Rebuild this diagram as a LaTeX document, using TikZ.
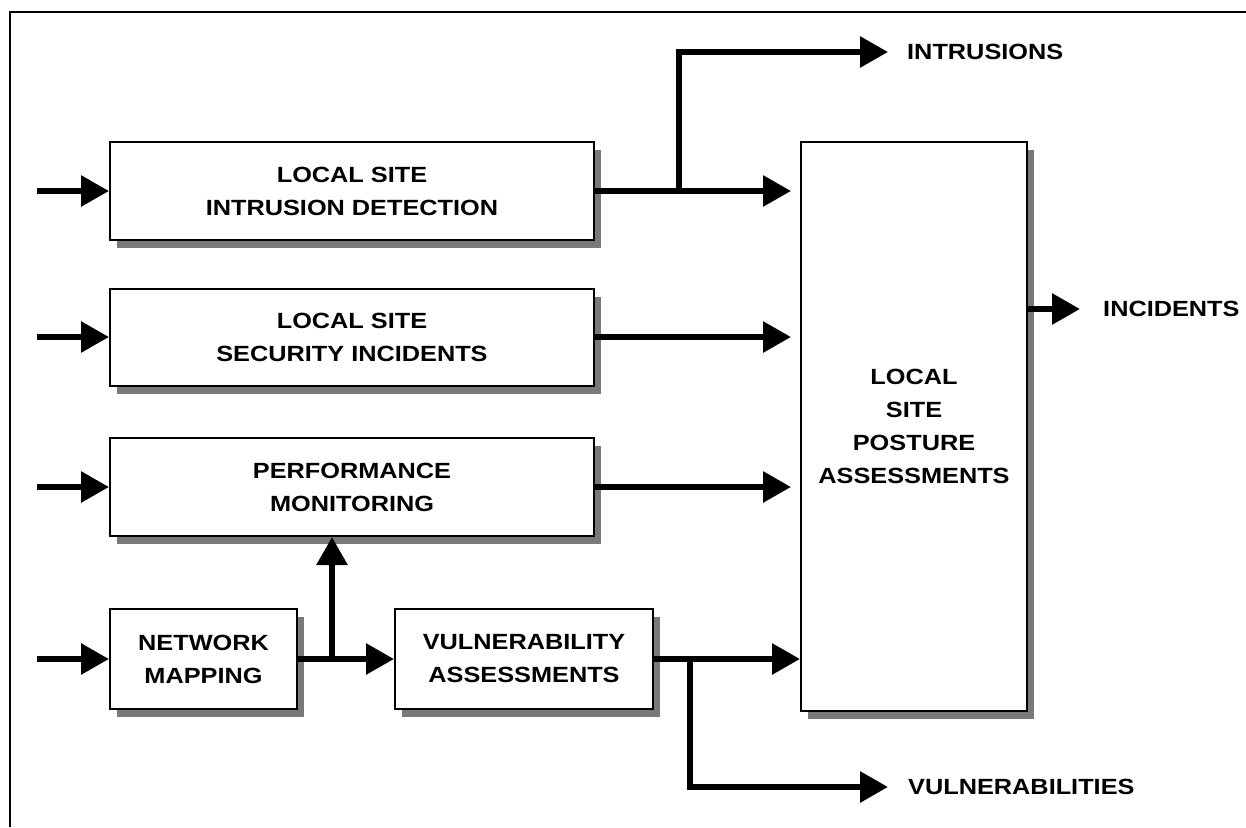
\documentclass[tikz,border=0pt]{standalone}
\usepackage{fontspec}
\setmainfont{Liberation Sans}[FakeStretch=1.15]
\usetikzlibrary{arrows.meta,shadows}
\newcommand\dlbl{\fontsize{22}{33}\selectfont\bfseries}
\begin{document}
\begin{tikzpicture}[x=1pt,y=-1pt,
  blk/.style={draw, line width=2pt, fill=white, inner sep=0pt, align=center, font=\dlbl,
    drop shadow={shadow xshift=7pt, shadow yshift=-8pt, fill=gray!95!black, opacity=1}},
  flow/.style={line width=6pt, -{Triangle[length=28pt,width=30pt]}},
  outlbl/.style={anchor=west, inner sep=0pt, font=\dlbl}
]
\useasboundingbox (0,0) rectangle (1246,827);
\draw[line width=1.5pt] (10,827) -- (10,12) -- (1246,12);

\node[blk, minimum width=484pt, minimum height=98pt] (b1) at (352,191) {LOCAL SITE\\INTRUSION DETECTION};
\node[blk, minimum width=484pt, minimum height=97pt] (b2) at (352,337) {LOCAL SITE\\SECURITY INCIDENTS};
\node[blk, minimum width=484pt, minimum height=98pt] (b3) at (352,487) {PERFORMANCE\\MONITORING};
\node[blk, minimum width=187pt, minimum height=100pt] (b4) at (203.5,659) {NETWORK\\MAPPING};
\node[blk, minimum width=258pt, minimum height=100pt] (b5) at (524,659) {VULNERABILITY\\ASSESSMENTS};
\node[blk, minimum width=226pt, minimum height=569pt] (big) at (914,426.5) {LOCAL\\SITE\\POSTURE\\ASSESSMENTS};

\node[outlbl] (intr) at (907,52) {INTRUSIONS};
\node[outlbl] (inc) at (1103,309) {INCIDENTS};
\node[outlbl] (vul) at (908,787) {VULNERABILITIES};

\coordinate (i1) at (37,191);
\coordinate (i2) at (37,337);
\coordinate (i3) at (37,487);
\coordinate (i4) at (37,659);
\draw[flow] (i1) -- (b1.west);
\draw[flow] (i2) -- (b2.west);
\draw[flow] (i3) -- (b3.west);
\draw[flow] (i4) -- (b4.west);

\draw[flow, shorten >=9pt] (b1.east) -- (b1.east -| big.west);
\draw[flow, shorten >=9pt] (b2.east) -- (b2.east -| big.west);
\draw[flow, shorten >=9pt] (b3.east) -- (b3.east -| big.west);
\draw[flow] (b5.east) -- (b5.east -| big.west);
\draw[flow] (b4.east) -- (b5.west);

\coordinate (j1) at (679,191);
\draw[flow, shorten >=19pt] (j1) |- (intr.west);
\coordinate (j3) at (332,659);
\draw[flow] (j3) -- (j3 |- b3.south);
\coordinate (j4) at (690,659);
\draw[flow, shorten >=20pt] (j4) |- (vul.west);
\draw[flow, shorten >=23pt] (inc.west -| big.east) -- (inc.west);
\end{tikzpicture}
\end{document}
